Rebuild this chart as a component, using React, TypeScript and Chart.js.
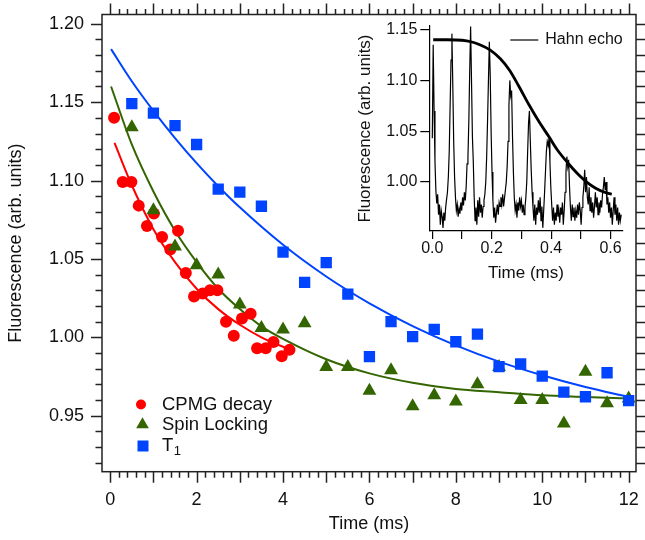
import React, { useEffect, useRef } from 'react';
import { Chart, registerables } from 'chart.js';

Chart.register(...registerables);

const FONT = '"Liberation Sans", Arial, Helvetica, sans-serif';
const RED = '#ff0000';
const GREEN = '#336600';
const BLUE = '#0044ff';
const INK = '#111111';

// ---------- main chart data ----------
const cpmgTime = [0.09, 0.29, 0.49, 0.66, 0.85, 1.01, 1.2, 1.39, 1.57, 1.75, 1.94, 2.14, 2.31, 2.48, 2.68, 2.86, 3.05, 3.25, 3.4, 3.6, 3.78, 3.97, 4.15];
const cpmgValue = [1.14, 1.099, 1.099, 1.084, 1.071, 1.079, 1.064, 1.056, 1.068, 1.041, 1.026, 1.028, 1.03, 1.03, 1.01, 1.001, 1.012, 1.015, 0.993, 0.993, 0.997, 0.988, 0.992];

const spinTime = [0.5, 1, 1.5, 2, 2.5, 3, 3.5, 4, 4.5, 5, 5.5, 6, 6.5, 7, 7.5, 8, 8.5, 9, 9.5, 10, 10.5, 11, 11.5, 12];
const spinValue = [1.134, 1.081, 1.058, 1.046, 1.04, 1.021, 1.006, 1.005, 1.009, 0.981, 0.981, 0.966, 0.979, 0.956, 0.963, 0.959, 0.97, 0.981, 0.96, 0.96, 0.945, 0.978, 0.958, 0.961];

const t1Time = [0.5, 1, 1.5, 2, 2.5, 3, 3.5, 4, 4.5, 5, 5.5, 6, 6.5, 7, 7.5, 8, 8.5, 9, 9.5, 10, 10.5, 11, 11.5, 12];
const t1Value = [1.149, 1.143, 1.135, 1.123, 1.0945, 1.0926, 1.0836, 1.0543, 1.0351, 1.0477, 1.0275, 0.9877, 1.01, 1.0004, 1.0051, 0.9972, 1.0021, 0.9813, 0.983, 0.9753, 0.9651, 0.9621, 0.9774, 0.9596];

const cpmgFitTime = [0.1, 0.5, 1, 1.5, 2, 2.5, 3, 3.5, 4, 4.2];
const cpmgFitValue = [1.124, 1.097, 1.069, 1.048, 1.031, 1.018, 1.008, 1.0, 0.994, 0.992];

const spinFitTime = [0.02, 0.5, 1, 1.5, 2, 2.5, 3, 3.5, 4, 5, 6, 7, 8, 9, 10, 11, 12];
const spinFitValue = [1.16, 1.123, 1.093, 1.068, 1.048, 1.031, 1.018, 1.007, 0.999, 0.986, 0.977, 0.971, 0.967, 0.965, 0.963, 0.962, 0.961];

const t1FitTime = [0.02, 0.5, 1, 1.5, 2, 2.5, 3, 4, 5, 6, 7, 8, 9, 10, 11, 12];
const t1FitValue = [1.1838, 1.1633, 1.1444, 1.1271, 1.1111, 1.0964, 1.0829, 1.059, 1.0388, 1.0217, 1.0072, 0.9949, 0.9845, 0.9758, 0.9683, 0.962];

const xTickValues = [0, 2, 4, 6, 8, 10, 12];
const xTickLabels = ['0', '2', '4', '6', '8', '10', '12'];
const yTickValues = [0.95, 1.0, 1.05, 1.1, 1.15, 1.2];
const yTickLabels = ['0.95', '1.00', '1.05', '1.10', '1.15', '1.20'];

const legendLabels = ['CPMG decay', 'Spin Locking', 'T'];

// ---------- inset data ----------
const traceStart = 0;
const traceStep = 0.003;
const traceValue = [
  1.043, 1.135, 1.07, 1.02, 0.992, 0.979, 0.988, 0.968, 0.978, 0.958,
  0.972, 0.966, 0.955, 0.97, 0.962, 0.975, 0.983, 0.99, 1.005, 1.03,
  1.075, 1.12, 1.146, 1.095, 1.04, 1.005, 0.985, 0.972, 0.978, 0.966,
  0.974, 0.969, 0.98, 0.972, 0.985, 0.977, 0.99, 0.982, 0.995, 1.018,
  1.025, 1.06, 1.11, 1.153, 1.1, 1.045, 1.02, 0.985, 0.962, 0.975,
  0.958, 0.982, 0.966, 0.985, 0.97, 0.978, 0.965, 0.976, 0.982, 0.988,
  1.0, 1.025, 1.06, 1.1, 1.138, 1.105, 1.05, 1.01, 0.982, 0.965,
  0.975, 0.96, 0.97, 0.978, 0.968, 0.98, 0.976, 0.985, 0.978, 0.988,
  0.976, 0.984, 0.992, 1.0, 1.015, 1.04, 1.075, 1.1, 1.085, 1.09,
  1.045, 1.01, 0.985, 0.972, 0.978, 0.965, 0.98, 0.972, 0.985, 0.976,
  0.982, 0.97, 0.978, 0.968, 0.975, 0.985, 1.0, 1.03, 1.058, 1.07,
  1.04, 1.012, 0.99, 0.975, 0.962, 0.978, 0.958, 0.975, 0.968, 0.982,
  0.97, 0.985, 0.962, 0.976, 0.955, 0.972, 0.99, 1.01, 1.03, 1.04,
  1.036, 1.043, 1.02, 0.995, 0.978, 0.962, 0.975, 0.958, 0.97, 0.962,
  0.978, 0.966, 0.972, 0.96, 0.975, 0.968, 0.98, 0.958, 0.972, 0.99,
  1.01, 1.025, 1.015, 1.022, 0.995, 0.975, 0.962, 0.978, 0.966, 0.975,
  0.962, 0.972, 0.965, 0.978, 0.968, 0.98, 0.972, 0.958, 0.975, 0.985,
  0.995, 1.012, 0.99, 1.005, 0.985, 0.978, 0.995, 0.972, 0.985, 0.97,
  0.98, 0.965, 0.976, 0.99, 0.975, 0.985, 0.968, 0.98, 0.97, 0.982,
  0.975, 0.988, 0.995, 1.005, 0.992, 1.0, 0.978, 0.985, 0.97, 0.98,
  0.965, 0.975, 0.958, 0.972, 0.985, 0.968, 0.978, 0.962, 0.975, 0.958,
  0.97, 0.962, 0.968,
];

const hahnFitTime = [0.003, 0.05, 0.1, 0.13, 0.16, 0.194, 0.23, 0.26, 0.29, 0.3255, 0.36, 0.394, 0.42, 0.4557, 0.49, 0.52, 0.55, 0.58, 0.604];
const hahnFitValue = [1.14, 1.14, 1.1395, 1.138, 1.135, 1.13, 1.121, 1.11, 1.095, 1.076, 1.059, 1.044, 1.032, 1.019, 1.008, 1.0, 0.994, 0.99, 0.988];

const insetXTickValues = [0, 0.1, 0.2, 0.3, 0.4, 0.5, 0.6];
const insetXTickLabels = ['0.0', '', '0.2', '', '0.4', '', '0.6'];
const insetYTickValues = [1.0, 1.05, 1.1, 1.15];
const insetYTickLabels = ['1.00', '1.05', '1.10', '1.15'];

const pts = (xs: number[], ys: number[]) => xs.map((x, i) => ({ x, y: ys[i] }));

const noPad = (s: any) => {
  s.paddingLeft = 0;
  s.paddingRight = 0;
  s.paddingTop = 0;
  s.paddingBottom = 0;
};

const mainFrame = {
  id: 'mainFrame',
  afterDraw(chart: any) {
    const { ctx, chartArea } = chart;
    const { left, right, top, bottom } = chartArea;
    const xs = chart.scales.x;
    const ys = chart.scales.y;
    ctx.save();
    ctx.strokeStyle = '#222';
    ctx.lineWidth = 1.5;
    ctx.strokeRect(left, top, right - left, bottom - top);
    ctx.beginPath();
    for (let i = 0; i <= 60; i++) {
      const px = Math.round(xs.getPixelForValue(i * 0.2)) + 0.5;
      const major = i % 5 === 0;
      ctx.moveTo(px, bottom);
      ctx.lineTo(px, bottom + (major ? 11 : 6));
      ctx.moveTo(px, top);
      ctx.lineTo(px, top - (major ? 11 : 5.5));
    }
    for (let i = 92; i <= 120; i++) {
      const py = Math.round(ys.getPixelForValue(i / 100)) + 0.5;
      const major = i % 5 === 0;
      ctx.moveTo(left, py);
      ctx.lineTo(left - (major ? 11 : 6.5), py);
      ctx.moveTo(right, py);
      ctx.lineTo(right + 10, py);
    }
    ctx.stroke();

    // legend
    const lx = left + 39;
    const tx = left + 60;
    const rows = [top + 390, top + 410, top + 431.5];
    ctx.fillStyle = RED;
    ctx.beginPath();
    ctx.arc(lx, rows[0], 5, 0, Math.PI * 2);
    ctx.fill();
    ctx.fillStyle = GREEN;
    ctx.beginPath();
    const r = 7.3;
    ctx.moveTo(lx + 1.5, rows[1] - r);
    ctx.lineTo(lx + 1.5 + r * 0.866, rows[1] + r * 0.5);
    ctx.lineTo(lx + 1.5 - r * 0.866, rows[1] + r * 0.5);
    ctx.closePath();
    ctx.fill();
    ctx.fillStyle = BLUE;
    ctx.fillRect(lx + 2 - 5.5, rows[2] - 5.5, 11, 11);

    ctx.fillStyle = INK;
    ctx.font = `18.5px ${FONT}`;
    ctx.textBaseline = 'middle';
    ctx.textAlign = 'left';
    ctx.fillText(legendLabels[0], tx, rows[0]);
    ctx.fillText(legendLabels[1], tx, rows[1]);
    ctx.fillText(legendLabels[2], tx, rows[2]);
    const tw = ctx.measureText(legendLabels[2]).width;
    ctx.font = `13px ${FONT}`;
    ctx.fillText('1', tx + tw + 0.5, rows[2] + 5.5);
    ctx.restore();
  },
};

const insetLegend = {
  id: 'insetLegend',
  afterDraw(chart: any) {
    const { ctx, chartArea } = chart;
    const y = chartArea.top + 14;
    ctx.save();
    ctx.strokeStyle = '#000';
    ctx.lineWidth = 1.2;
    ctx.beginPath();
    ctx.moveTo(chartArea.left + 81, y);
    ctx.lineTo(chartArea.left + 109, y);
    ctx.stroke();
    ctx.fillStyle = INK;
    ctx.font = `16px ${FONT}`;
    ctx.textBaseline = 'middle';
    ctx.textAlign = 'left';
    ctx.fillText('Hahn echo', chartArea.left + 116, y);
    ctx.restore();
  },
};

export default function App() {
  const mainRef = useRef<HTMLCanvasElement>(null);
  const insetRef = useRef<HTMLCanvasElement>(null);

  useEffect(() => {
    const tickFont = { family: FONT, size: 18 };
    const main = new Chart(mainRef.current as HTMLCanvasElement, {
      type: 'scatter',
      data: {
        datasets: [
          {
            label: 'T1',
            data: pts(t1Time, t1Value),
            pointStyle: 'rect',
            pointRadius: 8,
            backgroundColor: BLUE,
            borderWidth: 0,
            order: 0,
          },
          {
            label: 'Spin Locking',
            data: pts(spinTime, spinValue),
            pointStyle: 'triangle',
            pointRadius: 8,
            backgroundColor: GREEN,
            borderWidth: 0,
            order: 1,
          },
          {
            label: 'CPMG decay',
            data: pts(cpmgTime, cpmgValue),
            pointStyle: 'circle',
            pointRadius: 6,
            backgroundColor: RED,
            borderWidth: 0,
            order: 2,
          },
          {
            type: 'line',
            label: 'T1 fit',
            data: pts(t1FitTime, t1FitValue),
            borderColor: BLUE,
            borderWidth: 2,
            pointRadius: 0,
            cubicInterpolationMode: 'monotone',
            fill: false,
            order: 3,
          },
          {
            type: 'line',
            label: 'Spin Locking fit',
            data: pts(spinFitTime, spinFitValue),
            borderColor: GREEN,
            borderWidth: 2,
            pointRadius: 0,
            cubicInterpolationMode: 'monotone',
            fill: false,
            order: 4,
          },
          {
            type: 'line',
            label: 'CPMG fit',
            data: pts(cpmgFitTime, cpmgFitValue),
            borderColor: RED,
            borderWidth: 2,
            pointRadius: 0,
            cubicInterpolationMode: 'monotone',
            fill: false,
            order: 5,
          },
        ] as any,
      },
      options: {
        responsive: false,
        animation: false,
        events: [],
        layout: { padding: { top: 14.5, right: 9, left: 0, bottom: 0 } },
        plugins: { legend: { display: false }, tooltip: { enabled: false } },
        scales: {
          x: {
            type: 'linear',
            min: -0.19,
            max: 12.17,
            afterFit: (s: any) => {
              s.height = 68.3;
              noPad(s);
            },
            afterBuildTicks: (s: any) => {
              s.ticks = xTickValues.map((v) => ({ value: v }));
            },
            ticks: {
              callback: (_v: any, i: number) => xTickLabels[i],
              font: tickFont,
              color: INK,
              padding: 18,
              maxRotation: 0,
              autoSkip: false,
            },
            grid: { display: false, drawTicks: false },
            border: { display: false },
            title: {
              display: true,
              text: 'Time (ms)',
              font: { family: FONT, size: 18 },
              color: INK,
              padding: { top: 0, bottom: 5 },
            },
          },
          y: {
            type: 'linear',
            min: 0.9143,
            max: 1.2059,
            afterFit: (s: any) => {
              s.width = 102;
              noPad(s);
            },
            afterBuildTicks: (s: any) => {
              s.ticks = yTickValues.map((v) => ({ value: v }));
            },
            ticks: {
              callback: (_v: any, i: number) => yTickLabels[i],
              font: tickFont,
              color: INK,
              padding: 18,
              autoSkip: false,
            },
            grid: { display: false, drawTicks: false },
            border: { display: false },
            title: {
              display: true,
              text: 'Fluorescence (arb. units)',
              font: { family: FONT, size: 18 },
              color: INK,
              padding: { top: 5, bottom: 0 },
            },
          },
        },
      } as any,
      plugins: [mainFrame],
    });

    const insetFont = { family: FONT, size: 16 };
    const inset = new Chart(insetRef.current as HTMLCanvasElement, {
      type: 'line',
      data: {
        datasets: [
          {
            label: 'Hahn echo',
            data: traceValue.map((y, i) => ({ x: traceStart + i * traceStep, y })),
            borderColor: '#000',
            borderWidth: 1.2,
            pointRadius: 0,
            tension: 0,
            fill: false,
          },
          {
            label: 'Hahn echo fit',
            data: pts(hahnFitTime, hahnFitValue),
            borderColor: '#000',
            borderWidth: 2.8,
            pointRadius: 0,
            cubicInterpolationMode: 'monotone',
            fill: false,
          },
        ],
      },
      options: {
        responsive: false,
        animation: false,
        events: [],
        layout: { padding: { top: 26, right: 17.3, left: 0, bottom: 0 } },
        plugins: { legend: { display: false }, tooltip: { enabled: false } },
        scales: {
          x: {
            type: 'linear',
            min: -0.0101,
            max: 0.641,
            afterFit: (s: any) => {
              s.height = 59;
              noPad(s);
            },
            afterBuildTicks: (s: any) => {
              s.ticks = insetXTickValues.map((v) => ({ value: v }));
            },
            ticks: {
              callback: (_v: any, i: number) => insetXTickLabels[i],
              font: insetFont,
              color: INK,
              padding: 0,
              maxRotation: 0,
              autoSkip: false,
            },
            grid: { display: true, drawOnChartArea: false, drawTicks: true, tickLength: 8, color: '#000', lineWidth: 1.2 },
            border: { display: true, color: '#000', width: 1.2 },
            title: {
              display: true,
              text: 'Time (ms)',
              font: { family: FONT, size: 17 },
              color: INK,
              padding: { top: 0, bottom: 6.5 },
            },
          },
          y: {
            type: 'linear',
            min: 0.9519,
            max: 1.1535,
            afterFit: (s: any) => {
              s.width = 89.3;
              noPad(s);
            },
            afterBuildTicks: (s: any) => {
              s.ticks = insetYTickValues.map((v) => ({ value: v }));
            },
            ticks: {
              callback: (_v: any, i: number) => insetYTickLabels[i],
              font: insetFont,
              color: INK,
              padding: 3,
              autoSkip: false,
            },
            grid: { display: true, drawOnChartArea: false, drawTicks: true, tickLength: 9, color: '#000', lineWidth: 1.2 },
            border: { display: true, color: '#000', width: 1.2 },
            title: {
              display: true,
              text: 'Fluorescence (arb. units)',
              font: { family: FONT, size: 17 },
              color: INK,
              padding: { top: 14.8, bottom: 0 },
            },
          },
        },
      } as any,
      plugins: [insetLegend],
    });

    return () => {
      main.destroy();
      inset.destroy();
    };
  }, []);

  return (
    <div style={{ position: 'fixed', left: 0, top: 0, width: 645, height: 540, background: '#fff', overflow: 'hidden' }}>
      <canvas ref={mainRef} width={645} height={540} style={{ position: 'absolute', left: 0, top: 0 }} />
      <canvas ref={insetRef} width={300} height={290} style={{ position: 'absolute', left: 340, top: 0 }} />
    </div>
  );
}
